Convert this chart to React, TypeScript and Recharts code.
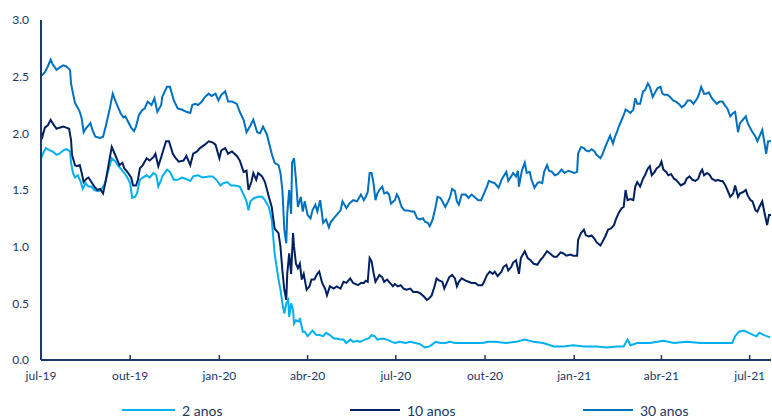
import { LineChart, Line, XAxis, YAxis } from 'recharts'

// x values are calendar days counted from 1 Jul 2019
const TICK_DAYS = [0, 92, 184, 275, 366, 458, 550, 640, 731]
const TICK_LABELS = ['jul-19', 'out-19', 'jan-20', 'abr-20', 'jul-20', 'out-20', 'jan-21', 'abr-21', 'jul-21']
const Y_TICKS = [0, 0.5, 1, 1.5, 2, 2.5, 3]

const TWO_YEAR: [number, number][] = [
  [0, 1.78], [2, 1.82], [5, 1.87], [9, 1.85], [12, 1.84], [16, 1.81], [19, 1.82], [23, 1.85], [26, 1.86], [30, 1.84],
  [31, 1.74], [33, 1.65], [35, 1.61], [38, 1.63], [41, 1.57], [43, 1.51], [46, 1.56], [49, 1.53], [52, 1.53], [55, 1.5],
  [59, 1.49], [62, 1.5], [66, 1.56], [69, 1.66], [73, 1.78], [77, 1.75], [80, 1.71], [83, 1.68], [86, 1.65], [89, 1.61],
  [92, 1.56], [94, 1.43], [97, 1.44], [99, 1.47], [102, 1.59], [105, 1.61], [109, 1.63], [112, 1.61], [116, 1.65], [119, 1.63],
  [121, 1.53], [124, 1.59], [125, 1.62], [130, 1.68], [133, 1.66], [137, 1.59], [141, 1.59], [145, 1.61], [149, 1.6], [154, 1.58],
  [157, 1.62], [162, 1.63], [167, 1.61], [173, 1.62], [177, 1.62], [181, 1.59], [185, 1.54], [188, 1.56], [192, 1.57], [196, 1.54],
  [200, 1.54], [205, 1.53], [209, 1.46], [212, 1.4], [214, 1.32], [216, 1.4], [220, 1.43], [224, 1.44], [228, 1.44], [231, 1.41],
  [235, 1.35], [238, 1.24], [241, 0.94], [245, 0.71], [247, 0.62], [249, 0.5], [251, 0.41], [253, 0.5], [255, 0.53], [256, 0.38],
  [258, 0.5], [260, 0.44], [261, 0.32], [263, 0.35], [266, 0.34], [267, 0.37], [270, 0.25], [272, 0.25], [275, 0.21], [278, 0.24],
  [280, 0.26], [284, 0.22], [287, 0.22], [291, 0.21], [294, 0.24], [298, 0.22], [302, 0.19], [305, 0.19], [309, 0.18], [312, 0.18],
  [315, 0.15], [319, 0.18], [322, 0.16], [326, 0.17], [329, 0.16], [334, 0.18], [338, 0.19], [341, 0.22], [344, 0.21], [347, 0.18],
  [352, 0.19], [357, 0.18], [362, 0.16], [365, 0.15], [370, 0.16], [376, 0.15], [381, 0.16], [386, 0.15], [391, 0.14], [396, 0.11],
  [401, 0.12], [407, 0.16], [412, 0.15], [417, 0.15], [422, 0.16], [427, 0.15], [434, 0.15], [441, 0.15], [448, 0.15], [455, 0.15],
  [462, 0.16], [468, 0.16], [480, 0.15], [490, 0.16], [499, 0.18], [508, 0.16], [518, 0.15], [529, 0.12], [539, 0.12], [549, 0.13],
  [560, 0.12], [573, 0.12], [584, 0.11], [594, 0.12], [601, 0.12], [605, 0.18], [608, 0.13], [615, 0.15], [628, 0.15], [642, 0.17],
  [653, 0.15], [666, 0.16], [680, 0.15], [694, 0.15], [704, 0.15], [713, 0.15], [716, 0.21], [720, 0.25], [725, 0.26], [730, 0.24],
  [735, 0.22], [738, 0.21], [741, 0.24], [746, 0.22], [752, 0.2],
]

const TEN_YEAR: [number, number][] = [
  [0, 2.02], [1, 1.95], [2, 1.99], [4, 2.05], [7, 2.07], [10, 2.12], [12, 2.09], [16, 2.04], [19, 2.05], [23, 2.06],
  [26, 2.05], [29, 2.04], [31, 1.94], [32, 1.81], [35, 1.72], [37, 1.71], [40, 1.72], [42, 1.65], [44, 1.57], [47, 1.6],
  [49, 1.61], [52, 1.57], [55, 1.53], [58, 1.5], [61, 1.51], [64, 1.47], [67, 1.59], [70, 1.74], [73, 1.88], [76, 1.82],
  [79, 1.76], [81, 1.72], [84, 1.74], [86, 1.69], [89, 1.66], [93, 1.61], [95, 1.54], [98, 1.54], [100, 1.59], [102, 1.69],
  [105, 1.72], [109, 1.78], [112, 1.76], [116, 1.79], [118, 1.82], [121, 1.71], [124, 1.79], [125, 1.82], [129, 1.93], [132, 1.93],
  [136, 1.82], [139, 1.78], [142, 1.75], [147, 1.76], [150, 1.8], [154, 1.72], [157, 1.82], [161, 1.84], [164, 1.87], [169, 1.9],
  [173, 1.93], [177, 1.92], [180, 1.9], [184, 1.78], [186, 1.85], [190, 1.87], [193, 1.82], [197, 1.84], [202, 1.8], [205, 1.76],
  [209, 1.66], [212, 1.67], [214, 1.5], [217, 1.57], [219, 1.65], [222, 1.59], [224, 1.65], [228, 1.62], [231, 1.57], [235, 1.44],
  [238, 1.35], [241, 1.16], [245, 1.12], [247, 1.0], [249, 0.79], [251, 0.62], [253, 0.53], [254, 0.76], [256, 0.94], [258, 0.76],
  [260, 1.12], [261, 1.0], [263, 0.85], [265, 0.81], [267, 0.85], [269, 0.71], [271, 0.76], [274, 0.62], [277, 0.65], [279, 0.71],
  [282, 0.71], [285, 0.76], [287, 0.78], [290, 0.68], [293, 0.63], [295, 0.57], [298, 0.65], [302, 0.63], [305, 0.65], [309, 0.63],
  [312, 0.69], [315, 0.68], [319, 0.72], [322, 0.68], [327, 0.66], [330, 0.68], [333, 0.68], [335, 0.7], [337, 0.69], [339, 0.9],
  [341, 0.87], [343, 0.77], [345, 0.69], [347, 0.72], [349, 0.75], [352, 0.73], [354, 0.69], [357, 0.71], [360, 0.68], [363, 0.65],
  [365, 0.67], [368, 0.65], [371, 0.66], [374, 0.63], [377, 0.62], [381, 0.63], [384, 0.6], [388, 0.6], [391, 0.59], [395, 0.56],
  [398, 0.53], [400, 0.54], [403, 0.57], [406, 0.65], [408, 0.72], [411, 0.7], [414, 0.69], [416, 0.63], [419, 0.69], [421, 0.73],
  [424, 0.75], [427, 0.72], [429, 0.65], [431, 0.69], [434, 0.72], [438, 0.7], [441, 0.69], [444, 0.68], [448, 0.68], [451, 0.66],
  [455, 0.66], [457, 0.69], [460, 0.75], [463, 0.78], [466, 0.76], [468, 0.78], [471, 0.74], [475, 0.78], [477, 0.82], [480, 0.84],
  [482, 0.79], [485, 0.82], [487, 0.86], [490, 0.88], [493, 0.76], [495, 0.9], [499, 0.96], [502, 0.9], [505, 0.88], [508, 0.85],
  [512, 0.84], [515, 0.88], [518, 0.91], [522, 0.96], [525, 0.94], [529, 0.91], [532, 0.91], [536, 0.95], [539, 0.94], [542, 0.92],
  [546, 0.93], [549, 0.92], [553, 0.92], [554, 1.06], [557, 1.12], [560, 1.15], [562, 1.1], [565, 1.09], [568, 1.1], [571, 1.07],
  [573, 1.04], [577, 1.01], [579, 1.04], [582, 1.09], [585, 1.15], [588, 1.16], [591, 1.19], [593, 1.24], [596, 1.3], [599, 1.34],
  [601, 1.35], [603, 1.5], [605, 1.41], [608, 1.42], [611, 1.41], [613, 1.53], [615, 1.57], [618, 1.53], [621, 1.6], [623, 1.63],
  [626, 1.69], [628, 1.71], [630, 1.63], [633, 1.66], [635, 1.69], [638, 1.71], [640, 1.75], [642, 1.68], [645, 1.66], [647, 1.63],
  [650, 1.64], [653, 1.6], [655, 1.59], [658, 1.56], [660, 1.54], [664, 1.56], [666, 1.6], [669, 1.62], [672, 1.59], [675, 1.58],
  [678, 1.6], [680, 1.65], [682, 1.68], [684, 1.63], [687, 1.65], [690, 1.63], [692, 1.6], [696, 1.58], [698, 1.59], [701, 1.58],
  [703, 1.58], [706, 1.54], [708, 1.5], [711, 1.44], [714, 1.47], [716, 1.54], [719, 1.44], [721, 1.47], [724, 1.48], [727, 1.5],
  [729, 1.45], [732, 1.41], [734, 1.4], [737, 1.32], [739, 1.31], [741, 1.35], [744, 1.4], [746, 1.31], [749, 1.19], [751, 1.28],
  [753, 1.28],
]

const THIRTY_YEAR: [number, number][] = [
  [0, 2.51], [2, 2.52], [4, 2.54], [7, 2.59], [10, 2.65], [12, 2.61], [16, 2.56], [19, 2.58], [23, 2.6], [26, 2.59],
  [30, 2.56], [31, 2.44], [33, 2.35], [35, 2.27], [37, 2.24], [40, 2.19], [42, 2.13], [44, 2.01], [46, 2.04], [49, 2.07],
  [51, 2.09], [53, 2.03], [56, 1.97], [61, 1.96], [64, 1.97], [67, 2.07], [71, 2.22], [74, 2.35], [77, 2.28], [79, 2.24],
  [82, 2.18], [85, 2.14], [87, 2.15], [90, 2.1], [93, 2.05], [96, 2.02], [98, 2.06], [101, 2.16], [104, 2.2], [107, 2.22],
  [110, 2.28], [114, 2.25], [117, 2.31], [120, 2.19], [124, 2.25], [125, 2.32], [130, 2.41], [133, 2.41], [137, 2.29], [141, 2.22],
  [145, 2.21], [150, 2.19], [154, 2.18], [156, 2.25], [159, 2.26], [162, 2.25], [166, 2.28], [169, 2.32], [173, 2.35], [176, 2.33],
  [180, 2.35], [183, 2.29], [186, 2.34], [190, 2.37], [193, 2.28], [197, 2.28], [202, 2.26], [205, 2.19], [209, 2.12], [212, 2.01],
  [216, 2.07], [219, 2.12], [223, 2.01], [226, 2.0], [229, 2.06], [233, 1.99], [238, 1.82], [241, 1.74], [245, 1.72], [247, 1.65],
  [249, 1.5], [251, 1.15], [253, 1.03], [254, 1.29], [256, 1.5], [258, 1.29], [259, 1.74], [261, 1.78], [263, 1.59], [265, 1.35],
  [267, 1.41], [268, 1.44], [270, 1.31], [272, 1.4], [275, 1.28], [278, 1.25], [280, 1.32], [283, 1.37], [285, 1.31], [288, 1.41],
  [291, 1.21], [294, 1.24], [297, 1.17], [299, 1.22], [302, 1.25], [305, 1.28], [309, 1.32], [311, 1.4], [315, 1.34], [318, 1.38],
  [322, 1.41], [326, 1.4], [330, 1.46], [333, 1.41], [335, 1.44], [337, 1.48], [339, 1.65], [341, 1.65], [343, 1.56], [345, 1.41],
  [347, 1.47], [349, 1.5], [352, 1.53], [354, 1.47], [357, 1.48], [359, 1.46], [361, 1.38], [365, 1.41], [367, 1.46], [369, 1.43],
  [372, 1.35], [375, 1.32], [378, 1.32], [382, 1.31], [385, 1.31], [388, 1.25], [391, 1.24], [394, 1.25], [396, 1.22], [399, 1.21],
  [401, 1.18], [404, 1.24], [407, 1.35], [409, 1.44], [412, 1.43], [414, 1.4], [417, 1.35], [420, 1.4], [422, 1.44], [424, 1.51],
  [427, 1.49], [429, 1.4], [431, 1.37], [434, 1.46], [438, 1.46], [441, 1.43], [444, 1.46], [447, 1.44], [451, 1.41], [454, 1.41],
  [457, 1.47], [460, 1.53], [462, 1.58], [465, 1.57], [468, 1.56], [472, 1.52], [475, 1.59], [477, 1.62], [480, 1.66], [482, 1.58],
  [485, 1.62], [487, 1.65], [490, 1.62], [492, 1.67], [493, 1.53], [496, 1.67], [499, 1.74], [501, 1.65], [504, 1.66], [506, 1.59],
  [509, 1.52], [512, 1.56], [514, 1.57], [517, 1.56], [519, 1.66], [522, 1.72], [524, 1.67], [527, 1.66], [530, 1.63], [533, 1.64],
  [537, 1.68], [540, 1.65], [544, 1.67], [547, 1.66], [550, 1.65], [553, 1.66], [554, 1.82], [557, 1.88], [560, 1.87], [562, 1.85],
  [565, 1.84], [568, 1.86], [571, 1.84], [573, 1.81], [577, 1.78], [579, 1.81], [582, 1.88], [585, 1.94], [587, 1.98], [590, 1.91],
  [592, 1.97], [594, 2.01], [596, 2.06], [599, 2.12], [601, 2.16], [603, 2.21], [608, 2.18], [611, 2.21], [613, 2.31], [615, 2.26],
  [618, 2.26], [621, 2.37], [623, 2.38], [626, 2.44], [628, 2.41], [631, 2.32], [634, 2.37], [636, 2.4], [639, 2.41], [641, 2.35],
  [643, 2.34], [646, 2.34], [649, 2.32], [652, 2.29], [655, 2.28], [658, 2.26], [661, 2.23], [664, 2.25], [667, 2.29], [670, 2.29],
  [673, 2.26], [677, 2.31], [679, 2.35], [681, 2.41], [684, 2.35], [686, 2.35], [689, 2.36], [692, 2.31], [695, 2.28], [697, 2.26],
  [700, 2.28], [703, 2.28], [706, 2.24], [708, 2.22], [711, 2.15], [714, 2.18], [716, 2.19], [719, 2.01], [721, 2.09], [724, 2.12],
  [727, 2.15], [729, 2.09], [732, 2.04], [734, 2.01], [737, 1.97], [739, 1.93], [742, 1.99], [744, 2.03], [746, 1.93], [748, 1.82],
  [750, 1.93], [753, 1.93],
]

const SERIES = [
  { name: '2 anos', points: TWO_YEAR, color: '#00b0f0' },
  { name: '10 anos', points: TEN_YEAR, color: '#002060' },
  { name: '30 anos', points: THIRTY_YEAR, color: '#0070c0' },
]

const AXIS = '#1f3864'
const TEXT = '#203864'
const FONT = 'Lato, "Open Sans", sans-serif'

const toRows = (pts: [number, number][]) => pts.map(([d, v]) => ({ d, v }))

// legend swatch positions (line start, line end) in px
const LEGEND = [
  { x1: 122, x2: 175 },
  { x1: 350, x2: 400 },
  { x1: 583, x2: 633 },
]

export default function App() {
  return (
    <div style={{ position: 'absolute', left: 0, top: 0, width: 772, height: 418, background: '#fff', fontFamily: FONT }}>
      <LineChart width={772} height={418} margin={{ top: 20, right: 1, left: 0, bottom: 28 }}>
        <XAxis
          dataKey="d"
          type="number"
          domain={[0, 753]}
          ticks={TICK_DAYS}
          tickFormatter={(d: number) => TICK_LABELS[TICK_DAYS.indexOf(d)] ?? ''}
          height={30}
          allowDataOverflow
          axisLine={{ stroke: AXIS, strokeWidth: 2 }}
          tickLine={{ stroke: AXIS, strokeWidth: 1.5 }}
          tickSize={-5}
          tickMargin={16}
          tick={{ fill: TEXT, fontSize: 12, fontFamily: FONT }}
        />
        <YAxis
          domain={[0, 3]}
          ticks={Y_TICKS}
          width={41}
          tickFormatter={(v: number) => v.toFixed(1)}
          axisLine={{ stroke: AXIS, strokeWidth: 2 }}
          tickLine={false}
          tickSize={0}
          tickMargin={12}
          tick={{ fill: TEXT, fontSize: 12, fontFamily: FONT }}
        />
        {SERIES.map(s => (
          <Line
            key={s.name}
            data={toRows(s.points)}
            dataKey="v"
            name={s.name}
            type="linear"
            stroke={s.color}
            strokeWidth={2}
            dot={false}
            isAnimationActive={false}
          />
        ))}
      </LineChart>

      {/* legend */}
      {SERIES.map((s, i) => (
        <div key={s.name} style={{ position: 'absolute', left: LEGEND[i].x1, top: 400, height: 20, display: 'flex', alignItems: 'center' }}>
          <div style={{ width: LEGEND[i].x2 - LEGEND[i].x1, height: 2, background: s.color }} />
          <span style={{ marginLeft: 7, fontSize: 14, color: TEXT, whiteSpace: 'nowrap' }}>{s.name}</span>
        </div>
      ))}
    </div>
  )
}
